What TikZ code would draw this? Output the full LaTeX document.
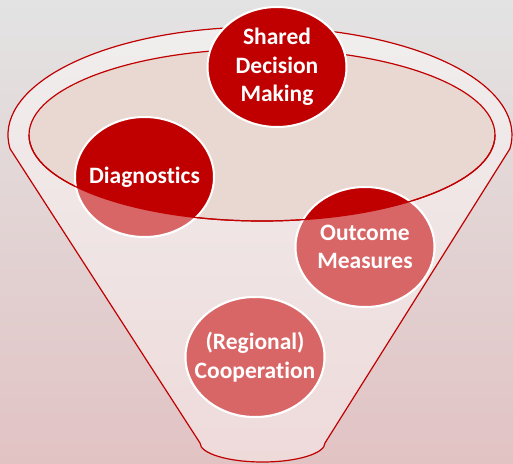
\documentclass[tikz,border=0pt]{standalone}
\usepackage{fontspec}
\setmainfont{Carlito}[Ligatures=NoCommon]
\usetikzlibrary{shapes.geometric}

\begin{document}
\begin{tikzpicture}[x=1pt, y=1pt,
  bubble/.style={ellipse, draw=white, line width=2pt, fill=deepred,
    minimum width=139pt, minimum height=120pt, inner sep=0pt},
  bubbletext/.style={text=white, font=\bfseries\fontsize{23.5}{28.5}\selectfont, align=center}]

% Define the soft slide colors
\definecolor{bgtop}{RGB}{227, 227, 227}
\definecolor{bgbot}{RGB}{226, 195, 196}
\definecolor{funtop}{RGB}{240, 238, 238}
\definecolor{funbot}{RGB}{239, 218, 218}
\definecolor{mouth}{RGB}{233, 215, 209}
\definecolor{deepred}{RGB}{192, 0, 0}
\definecolor{softred}{RGB}{217, 102, 102}

% Fill background
\useasboundingbox (0,0) rectangle (513,463);
\shade[top color=bgtop, bottom color=bgbot] (0,0) rectangle (513,463);

% FUNNEL BODY (rim arc, two sides, round spout)
\shadedraw[top color=funtop, bottom color=funbot, draw=deepred, line width=1.2pt]
  (10.04,314.28) arc[start angle=187.3, end angle=-7.3, x radius=252, y radius=108]
  -- (325,20) arc[start angle=0, end angle=-180, x radius=62.5, y radius=19] -- cycle;

% Funnel mouth
\draw[deepred, fill=mouth, line width=1.2pt] (262,328) ellipse[x radius=233, y radius=86];

% The four topics
\node[bubble] (sdm) at (277,396) {};
\node[bubble] (diag) at (144.5,286) {};
\node[bubble] (outc) at (365,216) {};
\node[bubble] (regc) at (255,106) {};

% Front wall of the funnel lightens what lies behind it
\begin{scope}
  \clip (10.04,314.28) arc[start angle=187.3, end angle=-7.3, x radius=252, y radius=108]
    -- (325,20) arc[start angle=0, end angle=-180, x radius=62.5, y radius=19] -- cycle;
  \clip (0,0) rectangle (513,328);
  \begin{scope}[even odd rule]
    \clip (0,0) rectangle (513,463) (262,328) ellipse[x radius=233, y radius=86];
    \foreach \b in {diag,outc,regc}
      \filldraw[fill=softred, draw=white, line width=2pt] (\b.center) ellipse[x radius=69.5, y radius=60];
  \end{scope}
\end{scope}

% front edge of the mouth
\draw[deepred, line width=1.2pt] (29,328) arc[start angle=180, end angle=360, x radius=233, y radius=86];

% Labels
\node[bubbletext] (sdmtext) at (sdm) {Shared\\Decision\\Making};
\node[bubbletext] (diagtext) at (diag) {Diagnostics};
\node[bubbletext] (outctext) at (outc) {Outcome\\Measures};
\node[bubbletext] (regctext) at (regc) {(Regional)\\Cooperation};

\end{tikzpicture}
\end{document}
